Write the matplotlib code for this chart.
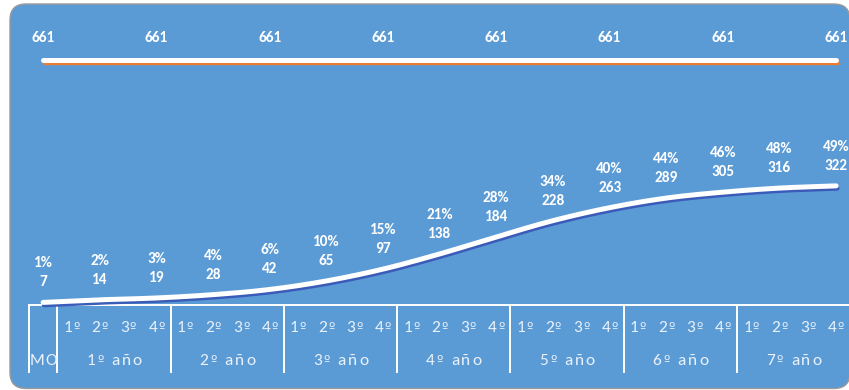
import numpy as np
import matplotlib
matplotlib.use("Agg")
import matplotlib.pyplot as plt
from matplotlib.patches import FancyBboxPatch
from matplotlib.transforms import IdentityTransform, offset_copy

# ---- data -------------------------------------------------------------
years = ["1º año", "2º año", "3º año", "4º año", "5º año", "6º año", "7º año"]
quarters = ["1º", "2º", "3º", "4º"]
first_label = "MO"

# cumulative series, shown at every second category (MO, 2º, 4º, ...)
cum_idx = [0, 2, 4, 6, 8, 10, 12, 14, 16, 18, 20, 22, 24, 26, 28]
cum_values = [7, 14, 19, 28, 42, 65, 97, 138, 184, 228, 263, 289, 305, 316, 322]

# total series, shown at MO and at the 4º quarter of every year
total_idx = [0, 4, 8, 12, 16, 20, 24, 28]
total_values = [661, 661, 661, 661, 661, 661, 661, 661]
total_ref = 661

# ---- style ------------------------------------------------------------
BG = "#5B9BD5"
TXT = "#EAF1FA"
MAIN_FONT = ["Carlito", "Lato", "DejaVu Sans"]
ORD_FONT = ["DejaVu Sans"]       # ordinal sign drawn with its underline bar

W, H = 849, 390
fig = plt.figure(figsize=(W / 100, H / 100), dpi=100)
fig.patch.set_facecolor("white")

# rounded panel (runs off the right edge of the canvas)
panel = FancyBboxPatch((10, 1.5), 840, 384.5,
                       boxstyle="round,pad=0,rounding_size=16",
                       transform=IdentityTransform(),
                       facecolor=BG, edgecolor="#9A9A9A", linewidth=1.0,
                       zorder=-5)
fig.patches.append(panel)

n_cat = 1 + len(years) * len(quarters)
ax_left, ax_right = 29, 850.3
ax_bottom_px = 305          # pixel row of the zero line (from top)
ymax = 800
px_per_unit = 0.37
ax_h = ymax * px_per_unit
ax = fig.add_axes([ax_left / W, (H - ax_bottom_px) / H,
                   (ax_right - ax_left) / W, ax_h / H])
ax.set_zorder(2)
ax.set_xlim(-0.5, n_cat - 0.5)
ax.set_ylim(0, ymax)
ax.axis("off")
ax.patch.set_alpha(0)


def catmull_rom(x, y, n=30):
    x = np.asarray(x, float)
    y = np.asarray(y, float)
    px = np.concatenate([[2 * x[0] - x[1]], x, [2 * x[-1] - x[-2]]])
    py = np.concatenate([[2 * y[0] - y[1]], y, [2 * y[-1] - y[-2]]])
    xs, ys = [], []
    t = np.linspace(0, 1, n, endpoint=False)
    for i in range(1, len(px) - 2):
        p0, p1, p2, p3 = (np.array([px[j], py[j]]) for j in range(i - 1, i + 3))
        t2, t3 = t * t, t * t * t
        pts = 0.5 * ((2 * p1)[None, :]
                     + (-p0 + p2)[None, :] * t[:, None]
                     + (2 * p0 - 5 * p1 + 4 * p2 - p3)[None, :] * t2[:, None]
                     + (-p0 + 3 * p1 - 3 * p2 + p3)[None, :] * t3[:, None])
        xs.append(pts[:, 0])
        ys.append(pts[:, 1])
    xs.append([x[-1]])
    ys.append([y[-1]])
    return np.concatenate(xs), np.concatenate(ys)


# total line: orange shadow + white line
shadow_tr = offset_copy(ax.transData, fig=fig, x=2, y=-2.5, units="dots")
ax.plot(total_idx, total_values, color="#ED7D31", lw=3.2,
        solid_capstyle="round", transform=shadow_tr, zorder=3, clip_on=False)
ax.plot(total_idx, total_values, color="white", lw=3.6,
        solid_capstyle="round", zorder=4, clip_on=False)

# cumulative line: dark blue shadow + white smooth line
sx, sy = catmull_rom(cum_idx, cum_values)
shadow_tr2 = offset_copy(ax.transData, fig=fig, x=1, y=-2.5, units="dots")
ax.plot(sx, sy, color="#3A5BB8", lw=3.4, solid_capstyle="round",
        transform=shadow_tr2, zorder=3, clip_on=False)
ax.plot(sx, sy, color="white", lw=3.6, solid_capstyle="round",
        zorder=4, clip_on=False)

# data labels
label_kw = dict(textcoords="offset pixels", ha="center", va="center",
                color="white", fontsize=11, fontweight="bold",
                family=MAIN_FONT, zorder=5, annotation_clip=False)
for xi, v in zip(total_idx, total_values):
    ax.annotate(f"{v}", (xi, v), xytext=(0, 22), **label_kw)

for xi, v in zip(cum_idx, cum_values):
    pct = round(v / total_ref * 100)
    ax.annotate(f"{v}", (xi, v), xytext=(0, 20), **label_kw)
    ax.annotate(f"{pct}%", (xi, v), xytext=(0, 39), **label_kw)

# category axis (two levels)
ax.axhline(0, color="white", lw=1.4, zorder=2, clip_on=False)
sep_bottom = -(372 - ax_bottom_px) / px_per_unit
row1 = -(327 - ax_bottom_px) / px_per_unit
row2 = -(360 - ax_bottom_px) / px_per_unit

bounds = [-0.5, 0.5] + [0.5 + 4 * (k + 1) for k in range(len(years))]
for b in bounds:
    ax.plot([b, b], [0, sep_bottom], color="white", lw=1.4,
            clip_on=False, zorder=2)

renderer = fig.canvas.get_renderer()
AX_SIZE = 12.5
size_px = AX_SIZE * 100 / 72


def spaced_label(xd, yd, text, gap):
    """Draw text centred on a data point, one glyph at a time with extra
    tracking; the ordinal sign uses a font that underlines it."""
    x0, y0 = ax.transData.transform((xd, yd))
    arts, widths = [], []
    for ch in text:
        if ch == " ":
            arts.append(None)
            widths.append(size_px * 0.22)
            continue
        fam = ORD_FONT if ch == "º" else MAIN_FONT
        fs = AX_SIZE * 0.78 if ch == "º" else AX_SIZE
        t = fig.text(0, 0, ch, family=fam, fontsize=fs, color=TXT,
                     ha="left", va="baseline", transform=IdentityTransform(),
                     zorder=5)
        arts.append(t)
        widths.append(t.get_window_extent(renderer).width)
    total = sum(widths) + gap * (len(widths) - 1)
    x = x0 - total / 2
    base = y0 - 0.63 * size_px / 2
    for t, w in zip(arts, widths):
        if t is not None:
            t.set_position((x, base))
        x += w + gap


spaced_label(0, row2, first_label, 1.5)
for k, yr in enumerate(years):
    start = 1 + 4 * k
    for q, ql in enumerate(quarters):
        spaced_label(start + q, row1, ql, 1.0)
    spaced_label(start + 1.5, row2, yr, 2.0)

fig.savefig("out.png", dpi=100, facecolor=fig.get_facecolor())
